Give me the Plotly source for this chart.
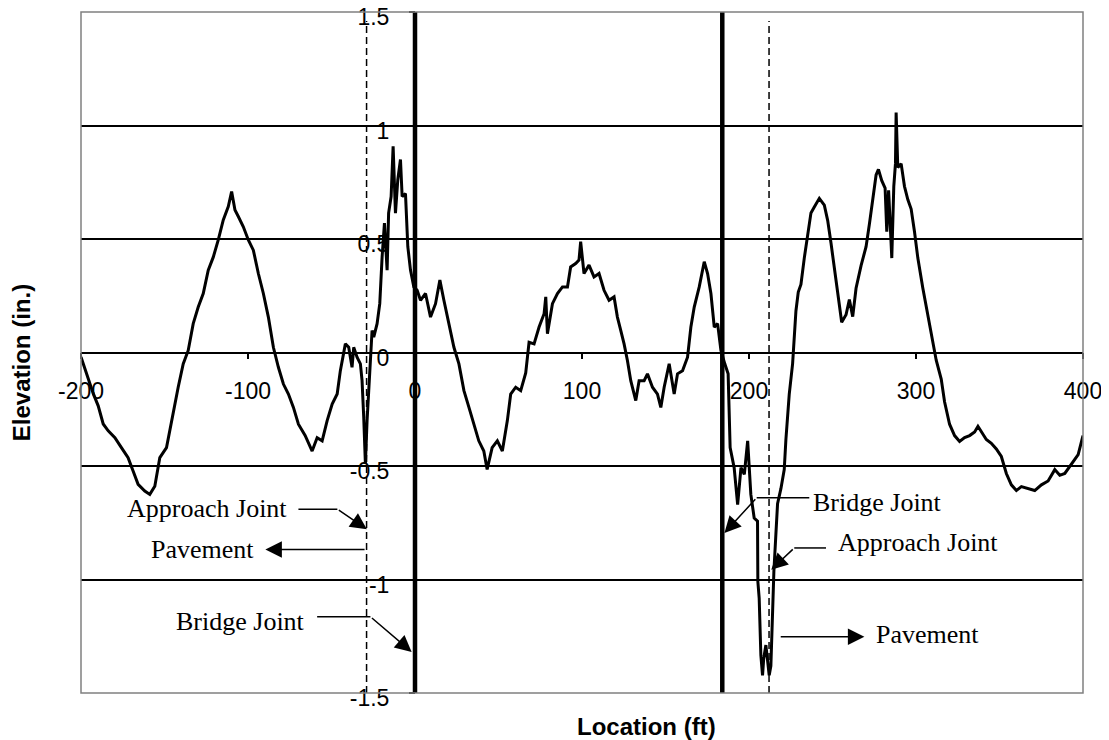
import plotly.graph_objects as go

# ---------------- data ----------------
location_ft = [
    -200, -196.8, -192.7, -189.7, -186.7, -183.7, -179.7, -175.8, -171.8, -168.8,
    -165.8, -161.8, -158.8, -155.8, -152.8, -148.8, -145.8, -141.8, -138.8, -135.8,
    -132.8, -129.8, -126.8, -123.8, -120.8, -117.8, -114.8, -111.8, -109.8, -107.8,
    -105.8, -102.8, -99.8, -96.8, -93.8, -90.8, -87.8, -84.8, -81.8, -78.8,
    -75.8, -72.8, -69.8, -65.8, -61.6, -58.6, -55.6, -52.6, -49.6, -46.6,
    -44.7, -41.7, -39.7, -37.7, -36.7, -34.7, -32.7, -31.7, -30.7, -29.7,
    -28.7, -27.7, -26.7, -25.7, -24.7, -22.7, -21.1, -19.7, -18.3, -16.7,
    -15.8, -14.3, -13.1, -11.7, -10.3, -8.7, -7.7, -5.7, -4.7, -4.3,
    -2.7, -0.7, 1.3, 3.3, 6.3, 9.3, 12.3, 14.9, 17.3, 20.3,
    23.3, 26.3, 29.3, 32.3, 35.2, 38.2, 41.2, 43.2, 46.2, 49.3,
    52.3, 55.3, 57.3, 60.3, 63.3, 66.3, 68.3, 71.3, 74.3, 77.3,
    78.3, 79.3, 82.3, 85.3, 88.3, 91.3, 93.2, 96.2, 98.2, 99.2,
    101.2, 104.2, 107.2, 110.2, 113.2, 116.2, 119.2, 121.2, 123.2, 125.2,
    127.2, 129.2, 132.2, 134.2, 137.2, 139.2, 142.2, 145.2, 147.2, 149.2,
    152.2, 155.2, 157.2, 160.2, 163.2, 165.2, 167.2, 170.2, 173.2, 175.2,
    177.2, 179.2, 181.2, 183.2, 185.5, 187.5, 188.7, 191.1, 193.2, 195.2,
    197.2, 199.2, 201.1, 203.1, 205.1, 205.3, 206.1, 207.1, 208.1, 208.8,
    210.1, 212.1, 213.1, 213.9, 214.9, 216.1, 217.1, 219.1, 221.1, 222.1,
    224.1, 226.1, 227.1, 228.1, 229.5, 231.1, 233.1, 235.1, 237.1, 239.1,
    242.1, 245.1, 247.1, 249.1, 251.1, 253.1, 255.5, 258.1, 260.1, 262.1,
    264.1, 267.1, 270.1, 272.1, 274.1, 276.1, 277.5, 279.5, 281.5, 282.5,
    283.6, 285.5, 286.7, 287.7, 288.1, 289.1, 291.1, 293.1, 295.1, 297.1,
    299.1, 301.1, 304.1, 307.1, 310.1, 312.1, 315.1, 317.1, 320.1, 323.1,
    326.1, 329.1, 332.1, 335.1, 337.1, 339.1, 342.1, 345.1, 348.1, 351.1,
    354.1, 357.1, 360.1, 363.1, 367.1, 371.1, 375.1, 379.1, 383.1, 386.1,
    389.1, 393.1, 397.1, 400,
]
elevation_in = [
    -0.02, -0.094, -0.18, -0.235, -0.315, -0.345, -0.375, -0.419, -0.463, -0.522,
    -0.581, -0.61, -0.625, -0.589, -0.463, -0.419, -0.30, -0.153, -0.05, 0.009,
    0.127, 0.20, 0.26, 0.363, 0.42, 0.496, 0.584, 0.643, 0.709, 0.628,
    0.599, 0.554, 0.496, 0.451, 0.348, 0.26, 0.156, 0.023, -0.065, -0.139,
    -0.183, -0.242, -0.316, -0.365, -0.434, -0.375, -0.389, -0.30, -0.227, -0.183,
    -0.08, 0.038, 0.023, -0.065, 0.023, -0.021, -0.05, -0.124, -0.286, -0.49,
    -0.30, -0.139, -0.035, 0.097, 0.068, 0.127, 0.215, 0.42, 0.57, 0.363,
    0.614, 0.687, 0.908, 0.614, 0.761, 0.85, 0.687, 0.70, 0.57, 0.466,
    0.363, 0.289, 0.274, 0.23, 0.26, 0.156, 0.215, 0.319, 0.23, 0.127,
    0.023, -0.05, -0.168, -0.242, -0.316, -0.389, -0.434, -0.515, -0.419, -0.389,
    -0.434, -0.30, -0.183, -0.153, -0.168, -0.09, 0.045, 0.038, 0.112, 0.171,
    0.245, 0.083, 0.215, 0.26, 0.289, 0.289, 0.377, 0.392, 0.407, 0.488,
    0.348, 0.385, 0.333, 0.348, 0.274, 0.23, 0.245, 0.156, 0.097, 0.038,
    -0.035, -0.124, -0.212, -0.124, -0.124, -0.094, -0.153, -0.183, -0.242, -0.153,
    -0.05, -0.183, -0.094, -0.08, -0.021, 0.112, 0.20, 0.289, 0.40, 0.348,
    0.26, 0.112, 0.127, 0.009, -0.05, -0.094, -0.419, -0.507, -0.67, -0.507,
    -0.537, -0.389, -0.625, -0.729, -0.743, -1.009, -1.083, -1.333, -1.422, -1.349,
    -1.289, -1.422, -1.38, -1.18, -0.965, -0.80, -0.666, -0.60, -0.516, -0.383,
    -0.183, -0.05, 0.05, 0.183, 0.266, 0.30, 0.416, 0.516, 0.615, 0.641,
    0.679, 0.649, 0.582, 0.482, 0.366, 0.25, 0.133, 0.166, 0.233, 0.158,
    0.283, 0.383, 0.466, 0.566, 0.682, 0.782, 0.807, 0.757, 0.724, 0.532,
    0.715, 0.416, 0.732, 0.832, 1.057, 0.815, 0.832, 0.732, 0.674, 0.632,
    0.532, 0.416, 0.283, 0.166, 0.05, -0.034, -0.117, -0.217, -0.316, -0.366,
    -0.392, -0.375, -0.366, -0.35, -0.325, -0.35, -0.383, -0.40, -0.425, -0.458,
    -0.533, -0.583, -0.608, -0.591, -0.60, -0.608, -0.583, -0.566, -0.516, -0.541,
    -0.533, -0.491, -0.45, -0.366,
]

bridge_joints_ft = [0, 184]
approach_joints_ft = [-29, 212]

x_tick_values = [-200, -100, 0, 100, 200, 300, 400]
x_tick_labels = ["-200", "-100", "0", "100", "200", "300", "400"]
y_tick_values = [-1.5, -1, -0.5, 0, 0.5, 1, 1.5]
y_tick_labels = ["-1.5", "-1", "-0.5", "0", "0.5", "1", "1.5"]

x_title = "Location (ft)"
y_title = "Elevation (in.)"

SANS = "Liberation Sans, Arial, sans-serif"
SERIF = "Liberation Serif, Times New Roman, serif"

fig = go.Figure()

fig.add_trace(go.Scatter(
    x=location_ft, y=elevation_in, mode="lines",
    line=dict(color="black", width=3), hoverinfo="skip", showlegend=False,
))

for xj in bridge_joints_ft:
    fig.add_trace(go.Scatter(
        x=[xj, xj], y=[-1.5, 1.5], mode="lines",
        line=dict(color="black", width=4.5), hoverinfo="skip", showlegend=False,
    ))

for xj in approach_joints_ft:
    fig.add_trace(go.Scatter(
        x=[xj, xj], y=[-1.5, 1.46], mode="lines",
        line=dict(color="black", width=1.5, dash="7px,4px"),
        hoverinfo="skip", showlegend=False,
    ))

# ---------------- annotations (labels with bent leader arrows) ----------------
ann_font = dict(family=SERIF, size=26, color="black")
annotations = []
shapes = []


def label(text, x, y):
    annotations.append(dict(x=x, y=y, xref="x", yref="y", text=text,
                            showarrow=False, font=ann_font,
                            xanchor="center", yanchor="middle"))


def arrow(x0, y0, x1, y1):
    annotations.append(dict(x=x1, y=y1, ax=x0, ay=y0, xref="x", yref="y",
                            axref="x", ayref="y", text="", showarrow=True,
                            arrowhead=2, arrowsize=2.2, arrowwidth=1.5,
                            arrowcolor="black", standoff=0, startstandoff=0))


def seg(x0, y0, x1, y1):
    shapes.append(dict(type="line", xref="x", yref="y", x0=x0, y0=y0,
                       x1=x1, y1=y1, line=dict(color="black", width=1.5)))


# left side
label("Approach Joint", -124.4, -0.686)
seg(-69.8, -0.69, -46.5, -0.69)
arrow(-46.5, -0.69, -28.8, -0.779)

label("Pavement", -127.1, -0.867)
arrow(-29.3, -0.868, -89.6, -0.868)

label("Bridge Joint", -104.6, -1.186)
seg(-58.6, -1.164, -26.7, -1.164)
arrow(-26.7, -1.164, -2.0, -1.319)

# right side
label("Bridge Joint", 277.1, -0.662)
seg(236.1, -0.64, 204.6, -0.64)
arrow(204.6, -0.64, 185.3, -0.795)

label("Approach Joint", 301.1, -0.839)
seg(246.1, -0.861, 227.1, -0.861)
arrow(227.1, -0.861, 213.3, -0.957)

label("Pavement", 307.1, -1.243)
arrow(218.1, -1.252, 269.1, -1.252)

# axis titles
annotations.append(dict(x=0.564, y=-0.049, xref="paper", yref="paper",
                        text="<b>" + x_title + "</b>", showarrow=False,
                        font=dict(family=SANS, size=24, color="black"),
                        xanchor="center", yanchor="middle"))
annotations.append(dict(x=-0.0592, y=0.4853, xref="paper", yref="paper",
                        text="<b>" + y_title + "</b>", showarrow=False,
                        textangle=-90,
                        font=dict(family=SANS, size=24, color="black"),
                        xanchor="center", yanchor="middle"))

# plot-area border
shapes.append(dict(type="rect", xref="paper", yref="paper", x0=0, y0=0, x1=1, y1=1,
                   line=dict(color="#808080", width=1.5), layer="above"))

tick_font = dict(family=SANS, size=23, color="black")

# the page body adds an 8px offset, so margins are compensated for it
fig.update_layout(
    template="none",
    width=1109, height=740,
    margin=dict(l=73, r=34, t=4, b=55, autoexpand=False),
    paper_bgcolor="white", plot_bgcolor="white",
    showlegend=False,
    xaxis=dict(
        range=[-200, 400], tickvals=x_tick_values, ticktext=x_tick_labels,
        ticks="outside", ticklen=6, tickwidth=1.5, tickcolor="black",
        showgrid=False, zeroline=False,
        showline=True, linecolor="black", linewidth=1.5,
        anchor="free", position=0.5, automargin=False,
        ticklabelstandoff=12, ticklabeloverflow="allow", tickfont=tick_font,
    ),
    yaxis=dict(
        range=[-1.5, 1.5], tickvals=y_tick_values, ticktext=y_tick_labels,
        ticks="outside", ticklen=6, tickwidth=1.5, tickcolor="black",
        showgrid=True, gridcolor="black", gridwidth=1.5, zeroline=False,
        showline=False,
        anchor="free", position=1 / 3, automargin=False,
        ticklabelstandoff=15, ticklabelshift=5, ticklabeloverflow="allow",
        tickfont=tick_font,
    ),
    annotations=annotations,
    shapes=shapes,
)

fig.write_html("out.html")
